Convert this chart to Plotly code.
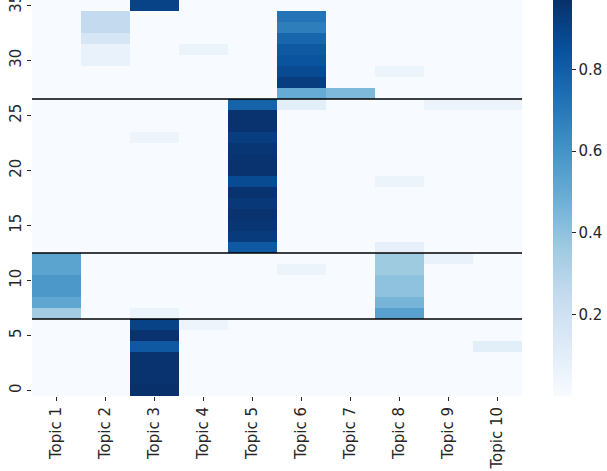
"""Topic weight heatmap (seaborn-style) with Plotly."""

import numpy as np
import plotly.graph_objects as go

topics = ["Topic 1", "Topic 2", "Topic 3", "Topic 4", "Topic 5",
          "Topic 6", "Topic 7", "Topic 8", "Topic 9", "Topic 10"]
rows = list(range(36))

# weight per document row (index 0..35), one list per topic; unlisted rows are 0
topic_1 = {7: 0.35, 8: 0.52, 9: 0.58, 10: 0.58, 11: 0.53, 12: 0.53}
topic_2 = {30: 0.07, 31: 0.07, 32: 0.16, 33: 0.25, 34: 0.25}
topic_3 = {0: 0.97, 1: 0.96, 2: 0.96, 3: 0.96, 4: 0.82, 5: 0.96, 6: 0.9,
           7: 0.06, 23: 0.05, 35: 0.9}
topic_4 = {6: 0.05, 31: 0.06}
topic_5 = {13: 0.82, 14: 0.93, 15: 0.95, 16: 0.96, 17: 0.94, 18: 0.96,
           19: 0.87, 20: 0.96, 21: 0.96, 22: 0.95, 23: 0.92, 24: 0.96,
           25: 0.96, 26: 0.78}
topic_6 = {11: 0.06, 26: 0.1, 27: 0.5, 28: 0.92, 29: 0.87, 30: 0.84,
           31: 0.82, 32: 0.77, 33: 0.68, 34: 0.72}
topic_7 = {27: 0.44}
topic_8 = {7: 0.54, 8: 0.46, 9: 0.4, 10: 0.4, 11: 0.36, 12: 0.36,
           13: 0.08, 19: 0.06, 29: 0.06}
topic_9 = {12: 0.07, 26: 0.06}
topic_10 = {4: 0.1, 26: 0.06}

boundaries = [6.5, 12.5, 26.5]
cbar_ticks = [0.2, 0.4, 0.6, 0.8]

columns = [topic_1, topic_2, topic_3, topic_4, topic_5,
           topic_6, topic_7, topic_8, topic_9, topic_10]
z = np.array([[col.get(r, 0.0) for col in columns] for r in rows])

blues = [
    [0.0, "#f7fbff"], [0.125, "#deebf7"], [0.25, "#c6dbef"],
    [0.375, "#9ecae1"], [0.5, "#6baed6"], [0.625, "#4292c6"],
    [0.75, "#2171b5"], [0.875, "#08519c"], [1.0, "#08306b"],
]

W, H = 607, 471
text_color = "#262626"
font_size = 15

fig = go.Figure()

fig.add_trace(go.Heatmap(
    z=z,
    x=topics,
    y=rows,
    colorscale=blues,
    zmin=float(z.min()),
    zmax=float(z.max()),
    colorbar=dict(
        xref="container",
        x=553 / W,
        xanchor="left",
        xpad=0,
        yref="container",
        y=1.0,
        yanchor="top",
        len=1.0,
        ypad=0,
        thickness=19,
        outlinewidth=0,
        tickvals=cbar_ticks,
        ticktext=[f"{v:.1f}" for v in cbar_ticks],
        ticks="outside",
        ticklen=4,
        tickcolor=text_color,
        tickfont=dict(size=font_size, color=text_color),
    ),
))

fig.update_layout(
    shapes=[
        dict(type="line", xref="paper", x0=0, x1=1, yref="y", y0=b, y1=b,
             line=dict(color="#000000", width=1.5))
        for b in boundaries
    ],
    width=W,
    height=H,
    margin=dict(l=32, r=85, t=0, b=75, autoexpand=False),
    paper_bgcolor="white",
    plot_bgcolor="white",
    font=dict(family="DejaVu Sans", size=font_size, color=text_color),
)

fig.update_xaxes(
    tickangle=-90,
    ticks="outside",
    ticklen=4,
    tickcolor=text_color,
    showgrid=False,
    zeroline=False,
    showline=False,
    automargin=False,
)

fig.update_yaxes(
    range=[-0.5, 35.5],
    tickvals=list(range(0, 36, 5)),
    tickangle=-90,
    ticks="outside",
    ticklen=4,
    tickcolor=text_color,
    showgrid=False,
    zeroline=False,
    showline=False,
    automargin=False,
    ticklabeloverflow="allow",
)

# drop the browser's default body margin so the figure sits at the page corner
fig.write_html(
    "out.html",
    config={"displayModeBar": False},
    post_script="document.body.style.margin='0';",
)
